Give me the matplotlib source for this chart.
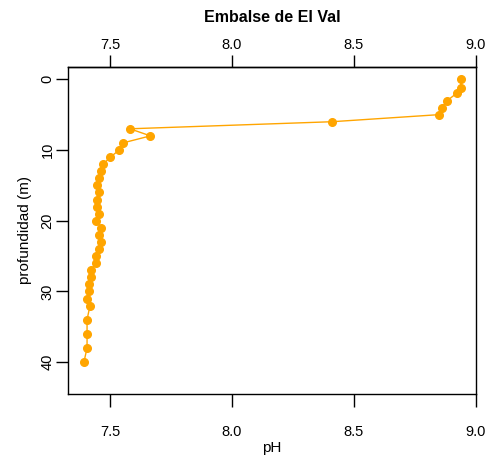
import matplotlib
matplotlib.use("Agg")
import matplotlib.pyplot as plt

plt.rcParams['font.family'] = ['Liberation Sans', 'DejaVu Sans']

depth = [0, 1.3, 2, 3, 4, 5, 6, 7, 8, 9, 10, 11, 12, 13, 14, 15, 16, 17, 18, 19,
         20, 21, 22, 23, 24, 25, 26, 27, 28, 29, 30, 31, 32, 34, 36, 38, 40]
ph = [8.939, 8.939, 8.922, 8.884, 8.861, 8.850, 8.411, 7.581, 7.665, 7.552,
      7.537, 7.501, 7.471, 7.463, 7.456, 7.445, 7.455, 7.444, 7.444, 7.455,
      7.443, 7.463, 7.455, 7.463, 7.455, 7.443, 7.443, 7.421, 7.421, 7.415,
      7.415, 7.405, 7.417, 7.405, 7.405, 7.405, 7.392]
xticks = [7.5, 8.0, 8.5, 9.0]
yticks = [0, 10, 20, 30, 40]

fig = plt.figure(figsize=(4.97, 4.68), dpi=100)
ax = fig.add_axes([68.3/497, 1-394/468, (476-68.3)/497, (394-66.7)/468])
ax.plot(ph, depth, color='#FFA500', lw=1.0, marker='o', ms=5.5, mec='#FFA500', mfc='#FFA500')
ax.set_xlim(7.328, 9.002)
ax.set_ylim(44.5, -1.78)

for s in ax.spines.values():
    s.set_linewidth(1.0)
    s.set_color('black')

ax.set_xticks(xticks)
ax.set_xticklabels(['7.5', '8.0', '8.5', '9.0'])
ax.set_yticks(yticks)
ax.set_yticklabels([str(v) for v in yticks], rotation=90, va='center')
ax.tick_params(axis='x', direction='out', length=9, width=1.0, labelsize=10.5, pad=13)
ax.tick_params(axis='y', direction='out', length=9, width=1.0, labelsize=10.5, pad=1)

sec = ax.secondary_xaxis('top')
sec.set_xticks(xticks)
sec.set_xticklabels(['7.5', '8.0', '8.5', '9.0'])
sec.tick_params(direction='out', length=9, width=1.0, labelsize=10.5, pad=1.5)
sec.spines['top'].set_linewidth(1.0)

ax.set_xlabel('pH', fontsize=11, labelpad=2)
ax.set_ylabel('profundidad (m)', fontsize=11, labelpad=6)
fig.text(0.5*(68.3+476)/497, 1-18/468, 'Embalse de El Val', ha='center', va='center',
         fontsize=11.5, fontweight='bold')

fig.savefig('out.png', dpi=100)
